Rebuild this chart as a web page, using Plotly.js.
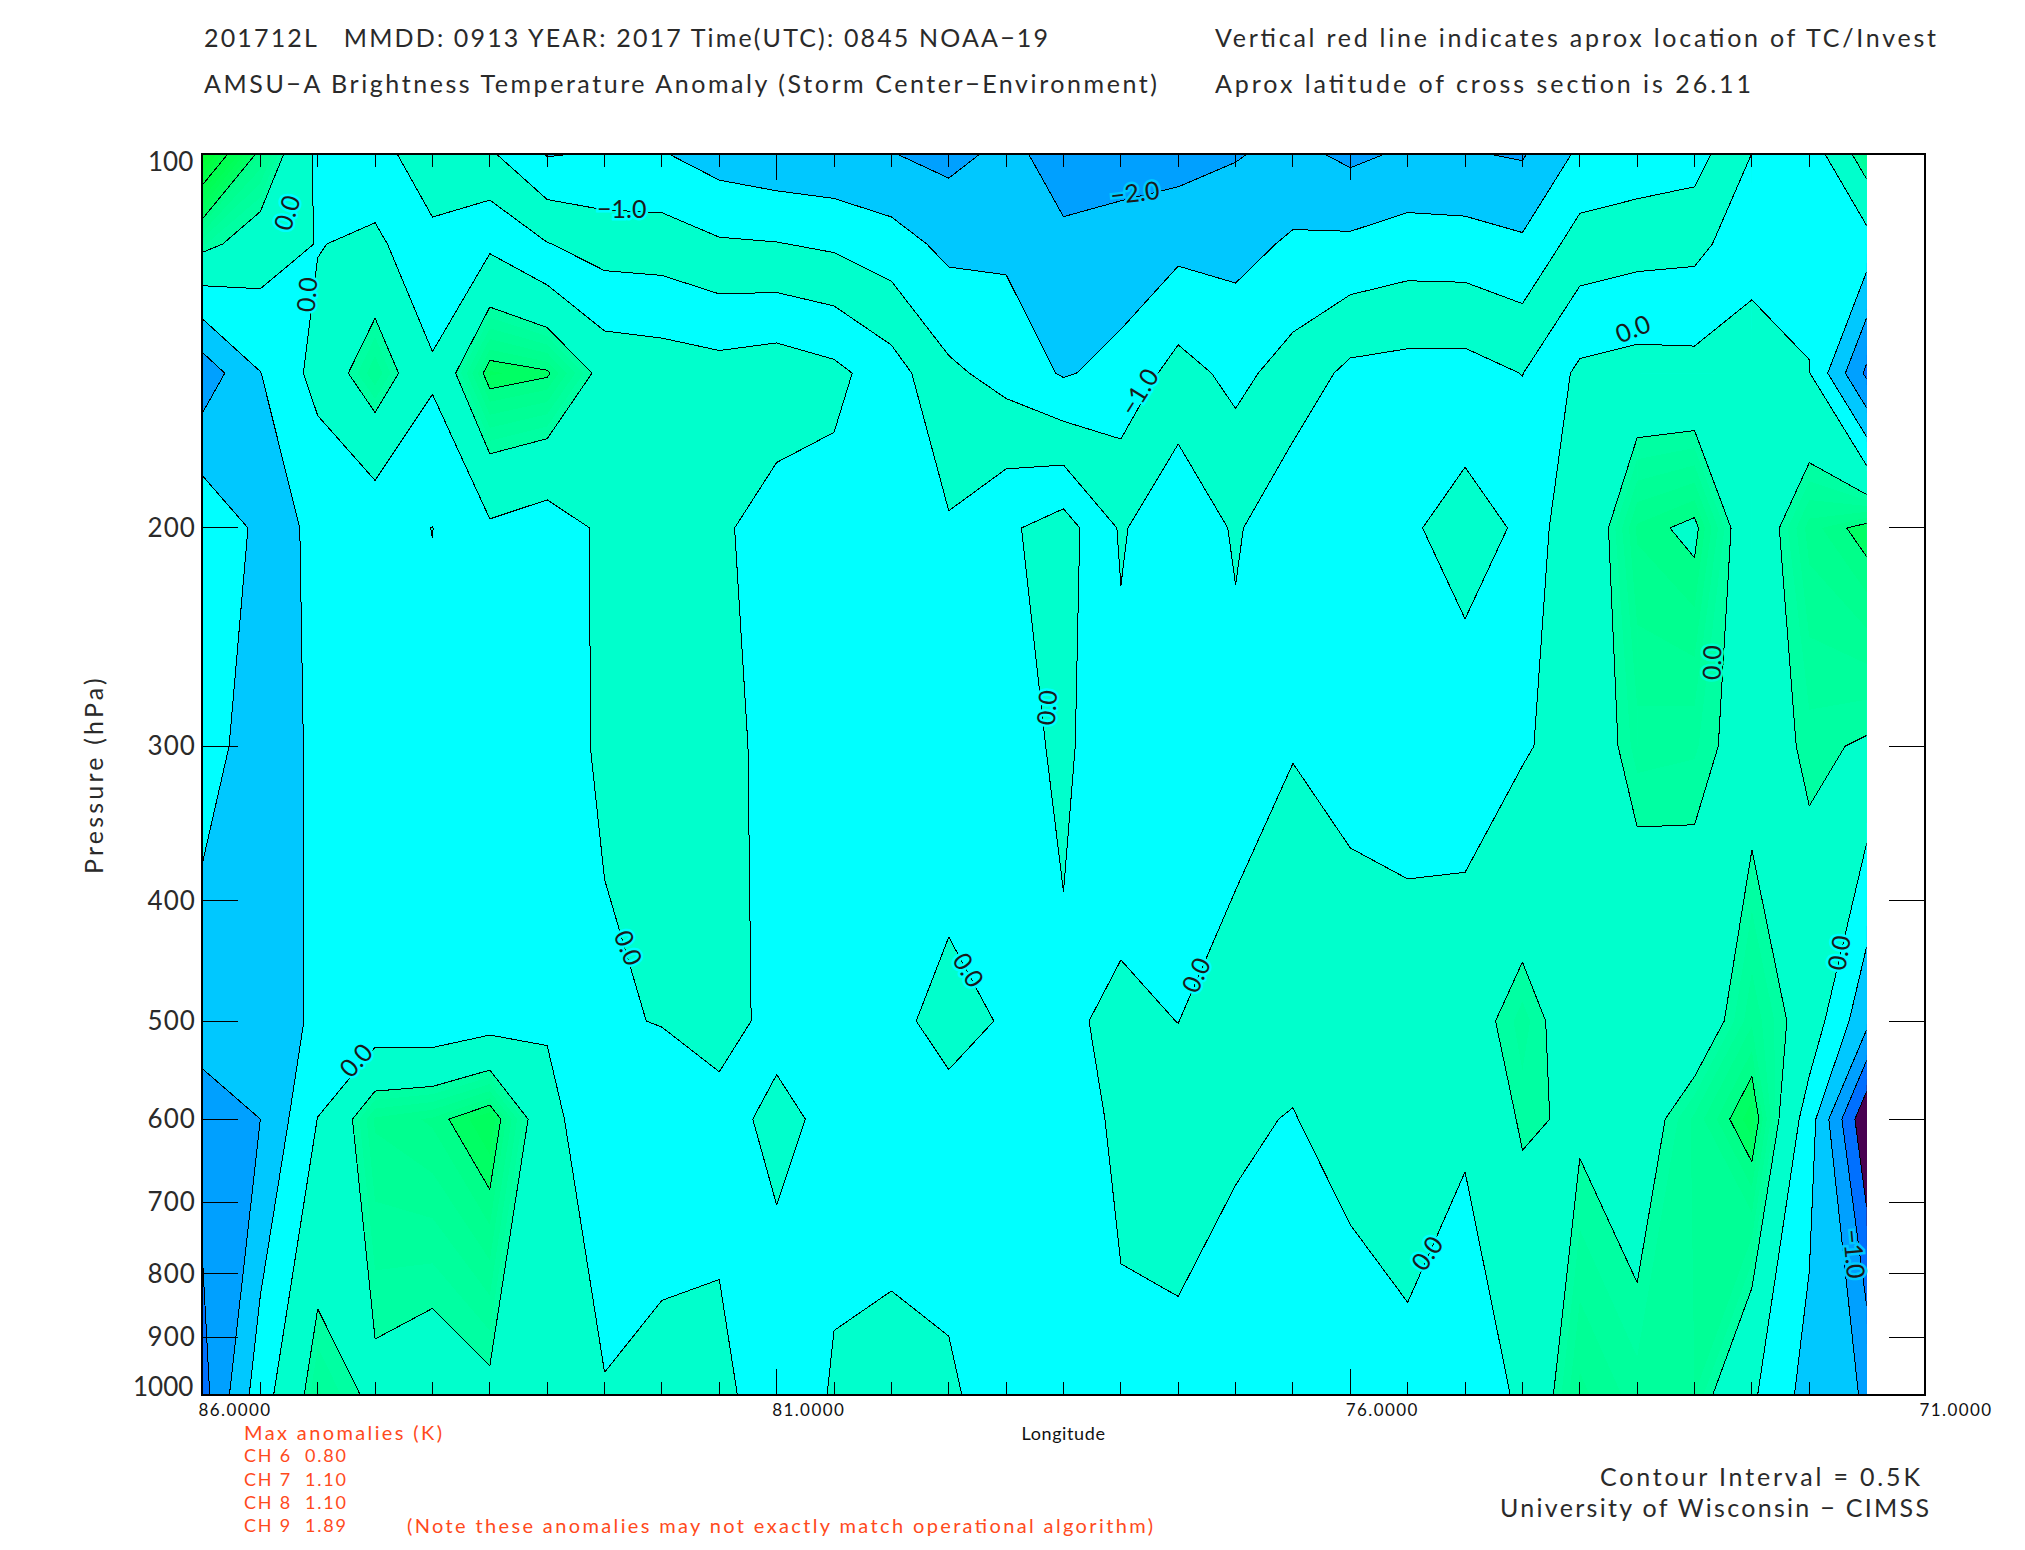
<!DOCTYPE html>
<html>
<head>
<meta charset="utf-8">
<script src="https://cdn.plot.ly/plotly-3.0.1.min.js"></script>
<style>
html,body{margin:0;padding:0;background:#fff}
.ytick text{letter-spacing:1px}
.xtick text{letter-spacing:1.4px}
.ytitle{letter-spacing:3.2px}
.xtitle{letter-spacing:.6px}
.contourbg path,.contourfill path,.contourlevel path{shape-rendering:crispEdges}
</style>
</head>
<body>
<div id="chart" style="width:2025px;height:1550px"></div>
<script>
// Longitude of each column (degrees) and pressure of each row (hPa)
var longitudes = [86,85.5,85,84.5,84,83.5,83,82.5,82,81.5,81,80.5,80,79.5,79,78.5,78,77.5,77,76.5,76,75.5,75,74.5,74,73.5,73,72.5,72,71.5];
var pressures = [100,118,150,200,300,500,600,1000];

// Brightness temperature anomaly (K), one list per pressure level
var anomaly100  = [1.93,0.9,-0.1,-0.35,-0.73,-0.92,-1.52,-1.45,-1.46,-1.72,-1.85,-1.9,-1.98,-2.13,-1.88,-2.18,-2.18,-2.2,-2.03,-1.86,-2.1,-1.92,-1.96,-2.04,-1.4,-1.3,-1.2,-0.49,-0.3,0.76];
var anomaly118  = [0.62,0.27,-0.02,0.11,-0.4,-0.09,-0.48,-0.72,-0.75,-0.94,-0.98,-1.08,-1.29,-1.63,-1.6,-1.92,-1.83,-1.64,-1.66,-1.43,-1.4,-1.27,-1.29,-1.42,-0.79,-0.69,-0.64,-0.19,-0.17,-0.2];
var anomaly150  = [-1.3,-0.51,0.17,0.79,0.08,1.12,1.035,0.35,0.28,0.2,0.3,0.13,-0.28,-0.9,-1.18,-1.55,-1.33,-0.82,-1.13,-0.8,-0.38,-0.32,-0.31,-0.51,0.1,0.2,0.17,0.25,0.02,-1.6];
var anomaly200  = [-0.1,-0.61,-0.45,-0.35,-0.505,-0.07,-0.23,0.08,0.12,0.08,-0.22,-0.21,-0.15,-0.45,-0.08,0.22,-0.554,-0.12,-0.56,-0.12,-0.2,-0.07,0.2,-0.07,0.08,0.92,1.06,0.18,0.85,1.08];
var anomaly300  = [-0.35,-0.68,-0.44,-0.33,-0.4,-0.12,-0.15,0.05,0.08,0.1,-0.1,-0.16,-0.12,-0.2,-0.2,0.09,-0.35,-0.1,-0.33,-0.01,-0.15,-0.1,-0.28,-0.05,0.2,0.65,0.62,0.33,0.55,0.47];
var anomaly500  = [-0.71,-0.72,-0.43,-0.3,-0.34,-0.2,-0.05,-0.053,0.02,0.15,-0.12,-0.1,-0.067,0.088,-0.024,-0.08,0.1,-0.005,0.3,0.15,0.255,0.107,0.33,0.65,0.28,0.14,0.2,0.78,0.32,-0.86];
var anomaly600  = [-1.3,-1.0,0.01,0.82,0.92,1.2,0.15,-0.35,-0.3,-0.14,0.1,-0.1,-0.1,-0.09,-0.2,-0.26,0.1,0.2,0.06,-0.02,0.2,0.2,0.095,0.55,0.445,0.28,0.73,1.17,-0.25,-2.45];
var anomaly1000 = [-1.67,-0.22,0.72,0.42,0.31,0.42,0.2,0.03,0.155,0.1,-0.22,0.03,0.06,0.024,-0.083,-0.25,-0.09,-0.11,-0.19,-0.3,-0.32,-0.1,-0.4,0.11,0.83,0.65,0.7,0.08,-0.7,-1.05];

var pressureTicks = [100,200,300,400,500,600,700,800,900,1000];
var pressureTickText = ['','200','300','400','500','600','700','800','900',''];
var lonTicks = [86,81,76,71];
var lonTickText = ['86.0000','81.0000','76.0000','71.0000'];
var lonMinorTicks = [85.5,85,84.5,84,83.5,83,82.5,82,81.5,80.5,80,79.5,79,78.5,78,77.5,77,76.5,75.5,75,74.5,74,73.5,73,72.5,72];

var grid = [anomaly100,anomaly118,anomaly150,anomaly200,anomaly300,anomaly500,anomaly600,anomaly1000];
var logP = pressures.map(Math.log10);

var START=-3, END=2.5, FINE=0.1;

function greenRamp(z){
  if(z<0.5) return [0,255,204];
  var stops=[[0.5,165],[1.0,135],[1.0001,102],[1.5,78],[2.0,40]];
  for(var i=1;i<stops.length;i++){
    if(z<=stops[i][0]){
      var a=stops[i-1],b=stops[i];
      return [0,255,Math.round(a[1]+(b[1]-a[1])*(z-a[0])/(b[0]-a[0]))];
    }
  }
  return [0,255,40];
}
function basePalette(z){
  if(z>=0) return greenRamp(z);
  if(z>=-0.5) return [0,255,255];
  if(z>=-1) return [0,200,255];
  if(z>=-1.5) return [0,160,255];
  if(z>=-2) return [0,112,255];
  return [72,0,80];
}
// upper-troposphere band keeps lighter colours in the reference
function upperPalette(z){
  if(z>=-0.5) return basePalette(z);
  if(z>=-1) return [0,255,204];
  if(z>=-1.5) return [0,255,255];
  if(z>=-2) return [0,200,255];
  return [0,160,255];
}
// the small core near 73 E at 200 hPa is drawn in the lighter tone
function corePalette(z){
  if(z>=1) return [0,255,204];
  return basePalette(z);
}
function makeScale(fn){
  var nc=Math.round((END-START)/FINE)+1, out=[];
  for(var i=0;i<=nc;i++){
    var z=START+(i-1)*FINE+FINE/2;
    var c=fn(z);
    out.push([i/nc,'rgb('+c[0]+','+c[1]+','+c[2]+')']);
  }
  return out;
}
function fillTrace(c0,c1,r0,r1,fn){
  return {
    type:'contour',
    x:longitudes.slice(c0,c1+1),
    y:logP.slice(r0,r1+1),
    z:grid.slice(r0,r1+1).map(function(r){return r.slice(c0,c1+1);}),
    autocontour:false,
    contours:{start:START,end:END,size:FINE,coloring:'fill',showlines:false},
    line:{width:0,smoothing:0},
    colorscale:makeScale(fn),
    showscale:false,
    hoverinfo:'skip'
  };
}
var traces=[
  fillTrace(0,29,0,7,basePalette),
  fillTrace(2,27,0,4,upperPalette),
  fillTrace(25,27,2,4,corePalette),
  {
    type:'contour',
    x:longitudes,y:logP,z:grid,
    autocontour:false,
    contours:{start:-3,end:2.5,size:0.5,coloring:'none'},
    line:{color:'#000',width:1,smoothing:0},
    showscale:false,
    hoverinfo:'skip'
  },
  {type:'scatter',x:[],y:[],xaxis:'x2',yaxis:'y',hoverinfo:'skip'},
  {type:'scatter',x:[],y:[],xaxis:'x',yaxis:'y2',hoverinfo:'skip'}
];

var L=203,T=155,W=1721,H=1239;
var FONT='Lato, "Liberation Sans", sans-serif';
var RED='#ff4a1c', INK='#2a2a2a';
var notes=[];
function note(text,px,py,size,color,width,extra){
  var a={text:text,xref:'paper',yref:'paper',x:(px-L)/W,y:1-(py-T)/H,xanchor:'left',yanchor:'middle',
    align:'left',showarrow:false,font:{family:FONT,size:size,color:color},borderpad:0};
  for(var k in (extra||{})) a[k]=extra[k];
  notes.push({a:a,width:width});
}
note('201712L\u00a0\u00a0 MMDD: 0913 YEAR: 2017 Time(UTC): 0845 NOAA\u221219',203,37,25,INK,844);
note('AMSU\u2212A Brightness Temperature Anomaly (Storm Center\u2212Environment)',203,83,25,INK,953);
note('Vertical red line indicates aprox location of TC/Invest',1214,37,25,INK,721);
note('Aprox latitude of cross section is 26.11',1214,83,25,INK,536);
note('Contour Interval = 0.5K',1599,1476,25,INK,320);
note('University of Wisconsin \u2212 CIMSS',1499,1507,25,INK,429);
note('Max anomalies (K)',243,1432,20,RED,198);
note('CH 6\u00a0\u00a00.80',243,1455,18,RED,102);
note('CH 7\u00a0\u00a01.10',243,1479,18,RED,102);
note('CH 8\u00a0\u00a01.10',243,1502,18,RED,102);
note('CH 9\u00a0\u00a01.89',243,1525,18,RED,102);
note('(Note these anomalies may not exactly match operational algorithm)',406,1525,20,RED,746);
note('100',194,161,26,INK,null,{xanchor:'right',align:'right'});
note('1000',194,1386,26,INK,null,{xanchor:'right',align:'right'});

var contourLabels=[
  ['0.0',286,213,-72,'#00ffff'],
  ['0.0',306,295,-85,'#00ffff'],
  ['\u22121.0',621,208,0,'#00ffff'],
  ['\u22122.0',1134,192,-7,'#00c8ff'],
  ['\u22121.0',1138,392,-58,'#00ffff'],
  ['0.0',1632,328,-22,'#00ffff'],
  ['0.0',1046,708,-86,'#00ffff'],
  ['0.0',1711,663,-88,'#00ffcc'],
  ['0.0',1838,953,-80,'#00ffff'],
  ['\u22121.0',1855,1253,85,'#00c8ff'],
  ['0.0',1426,1253,-55,'#00ffff'],
  ['0.0',629,947,68,'#00ffff'],
  ['0.0',969,969,58,'#00ffff'],
  ['0.0',1195,975,-65,'#00ffff'],
  ['0.0',355,1060,-48,'#00ffff']
];
contourLabels.forEach(function(c){
  notes.push({halo:c[4],a:{text:c[0],xref:'paper',yref:'paper',x:(c[1]-L)/W,y:1-(c[2]-T)/H,xanchor:'center',yanchor:'middle',
    showarrow:false,textangle:c[3],borderpad:0,
    font:{family:FONT,size:25,color:'#1a1a1a'}}});
});

var layout={
  width:2025,height:1550,
  margin:{l:L,r:2025-L-W,t:T,b:1550-T-H,pad:0},
  paper_bgcolor:'#fff',plot_bgcolor:'rgba(0,0,0,0)',
  showlegend:false,
  xaxis:{
    range:[86,71],
    tickmode:'array',tickvals:lonTicks,ticktext:lonTickText,
    ticks:'inside',ticklen:25,tickwidth:1,tickcolor:'#000',
    minor:{ticks:'inside',ticklen:12,tickwidth:1,tickcolor:'#000',tickmode:'array',tickvals:lonMinorTicks},
    showline:true,linecolor:'#000',linewidth:2,mirror:true,
    showgrid:false,zeroline:false,
    ticklabelshift:-32,
    tickfont:{family:FONT,size:17,color:'#111'},
    title:{text:'Longitude',font:{family:FONT,size:18,color:'#111'},standoff:8}
  },
  xaxis2:{
    overlaying:'x',side:'top',anchor:'y',range:[86,71],
    tickmode:'array',tickvals:lonTicks,ticks:'inside',ticklen:25,tickwidth:1,tickcolor:'#000',
    minor:{ticks:'inside',ticklen:12,tickwidth:1,tickcolor:'#000',tickmode:'array',tickvals:lonMinorTicks},
    showticklabels:false,showline:false,showgrid:false,zeroline:false
  },
  yaxis:{
    range:[3,2],
    tickmode:'array',tickvals:pressureTicks.map(Math.log10),ticktext:pressureTickText,
    ticks:'inside',ticklen:35,tickwidth:1,tickcolor:'#000',
    showline:true,linecolor:'#000',linewidth:2,mirror:true,
    showgrid:false,zeroline:false,
    tickfont:{family:FONT,size:26,color:INK},
    title:{text:'Pressure (hPa)',font:{family:FONT,size:25,color:INK},standoff:37}
  },
  yaxis2:{
    overlaying:'y',side:'right',anchor:'x',range:[3,2],
    tickmode:'array',tickvals:pressureTicks.map(Math.log10),ticks:'inside',ticklen:35,tickwidth:1,tickcolor:'#000',
    showticklabels:false,showline:false,showgrid:false,zeroline:false
  },
  annotations:notes.map(function(n){return n.a;})
};

Plotly.newPlot('chart',traces,layout,{displayModeBar:false,responsive:false,staticPlot:true}).then(function(){
  var els=document.querySelectorAll('.annotation');
  els.forEach(function(el){
    var i=+el.getAttribute('data-index');
    var n=notes[i];
    var t=el.querySelector('text');
    if(!n||!t) return;
    if(n.width){
      t.setAttribute('textLength',n.width);t.setAttribute('lengthAdjust','spacing');
    }
    if(n.halo){
      t.style.stroke=n.halo;t.style.strokeWidth='5px';t.style.paintOrder='stroke';
    }
  });
});
</script>
</body>
</html>
